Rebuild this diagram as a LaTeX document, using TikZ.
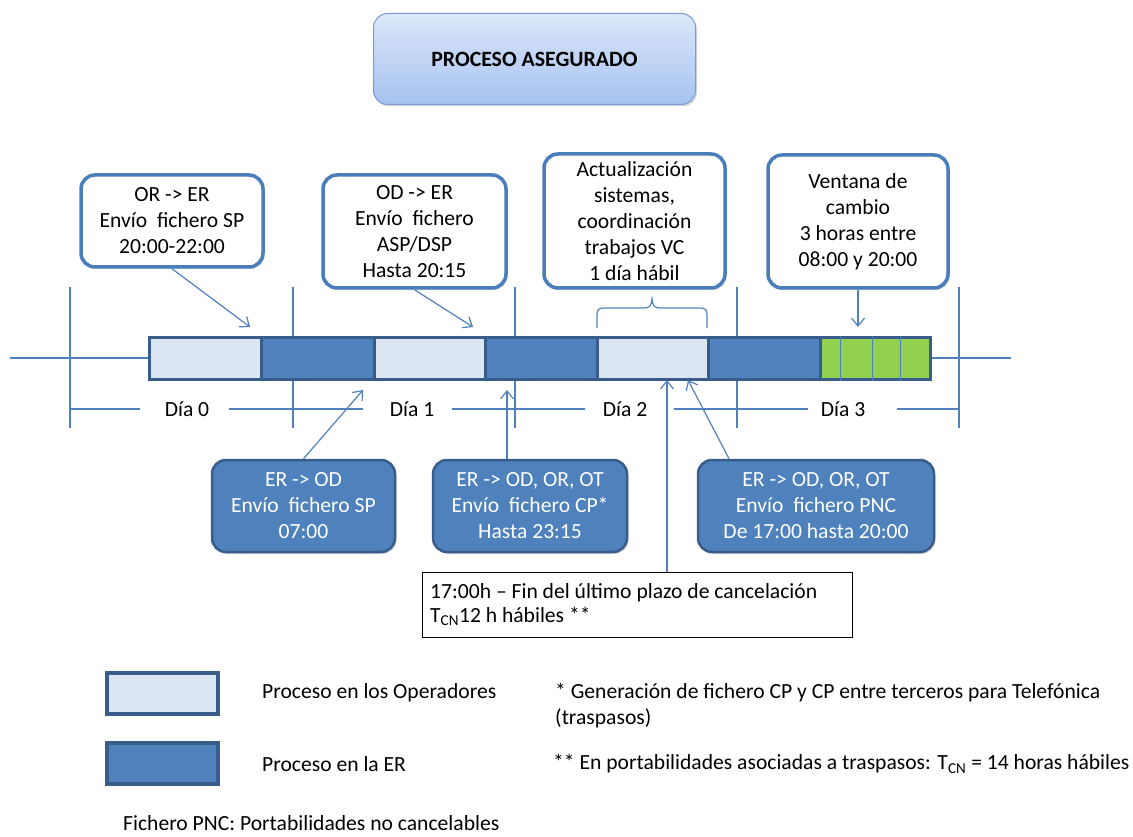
\documentclass[tikz,border=0pt]{standalone}
\usepackage{fontspec}
\setmainfont{Carlito}
\usetikzlibrary{arrows.meta,shadows}
\definecolor{lightseg}{HTML}{DCE6F2}
\definecolor{darkseg}{HTML}{4F81BD}
\definecolor{barline}{HTML}{385D8A}
\definecolor{greenseg}{HTML}{92D050}
\definecolor{linecol}{HTML}{4F81BD}
\definecolor{calloutline}{HTML}{4A7EBB}
\definecolor{titletop}{HTML}{DCE7FA}
\definecolor{titlebot}{HTML}{A6C2F0}
\definecolor{titleline}{HTML}{7A9AD2}
\begin{document}
\begin{tikzpicture}[x=1pt,y=-1pt,
  every node/.style={font=\fontsize{21.6}{26}\selectfont},
  softshadow/.style={drop shadow={shadow xshift=1.5pt,shadow yshift=-2pt,opacity=0.3}},
  callout/.style={draw=calloutline,line width=3.5pt,rounded corners=14pt,fill=white,align=center,inner sep=0pt,softshadow},
  erbox/.style={draw=barline,line width=2.5pt,rounded corners=14pt,fill=darkseg,text=white,align=center,inner sep=0pt,softshadow},
  seg/.style={draw=barline,line width=3pt,minimum height=42pt,inner sep=0pt},
  thinline/.style={draw=linecol,line width=1.2pt},
  conn/.style={thinline,-{Straight Barb[length=8pt,width=13pt]}},
  daylabel/.style={inner sep=0pt},
  legendbox/.style={draw=barline,line width=4pt,minimum width=111pt,minimum height=41pt,inner sep=0pt,softshadow},
  note/.style={anchor=west,inner sep=0pt}
]
\useasboundingbox (0,0) rectangle (1133,837);

% title
\node[draw=titleline,line width=1pt,rounded corners=14pt,top color=titletop,bottom color=titlebot,
      minimum width=322pt,minimum height=91pt,inner sep=0pt,softshadow,font=\fontsize{21.8}{26}\selectfont\bfseries]
  (title) at (534.5,59) {PROCESO ASEGURADO};

% centre line and ticks
\draw[thinline] (10,358) -- (1011,358);
\foreach \x in {70,293,515,737,959}{
  \draw[thinline] (\x,287) -- (\x,428);
}

% bar segments
\node[seg,fill=lightseg,minimum width=112.5pt] (s1) at (205.25,358) {};
\node[seg,fill=darkseg,minimum width=112.5pt]  (s2) at (317.75,358) {};
\node[seg,fill=lightseg,minimum width=111.5pt] (s3) at (429.75,358) {};
\node[seg,fill=darkseg,minimum width=111.5pt]  (s4) at (541.25,358) {};
\node[seg,fill=lightseg,minimum width=111.5pt] (s5) at (652.75,358) {};
\node[seg,fill=darkseg,minimum width=111.5pt]  (s6) at (764.25,358) {};
\node[seg,fill=greenseg,minimum width=110pt]   (s7) at (875,358) {};
\foreach \dx in {22,54,82}{
  \draw[draw=linecol,line width=1.5pt] ([xshift=\dx pt]s7.north west) -- ([xshift=\dx pt]s7.south west);
}

% day labels and dimension lines
\node[daylabel] (d0) at (187,409) {Día 0};
\node[daylabel] (d1) at (412,409) {Día 1};
\node[daylabel] (d2) at (625,409) {Día 2};
\node[daylabel] (d3) at (843,409) {Día 3};
\draw[thinline] (70,409) -- (140,409);
\draw[thinline] (229,409) -- (363,409);
\draw[thinline] (452,409) -- (585,409);
\draw[thinline] (674,409) -- (808,409);
\draw[thinline] (897,409) -- (959,409);

% top callouts
\node[callout,minimum width=182pt,minimum height=92pt] (b1) at (172,221)
  {OR -> ER\\Envío\ \ fichero SP\\20:00-22:00};
\node[callout,minimum width=183pt,minimum height=113pt] (b2) at (414.5,231.5)
  {OD -> ER\\Envío\ \ fichero\\ASP/DSP\\Hasta 20:15};
\node[callout,minimum width=181pt,minimum height=134pt] (b3) at (634.5,221)
  {Actualización\\sistemas,\\coordinación\\trabajos VC\\1 día hábil};
\node[callout,minimum width=180pt,minimum height=133pt] (b4) at (858,221.5)
  {Ventana de\\cambio\\3 horas entre\\08:00 y 20:00};

\coordinate (t1) at (250,327);
\coordinate (t2) at (473,327);
\coordinate (t4) at (858,327);
\draw[conn] (b1.south) -- (t1);
\draw[conn] (b2.south) -- (t2);
\draw[conn] (b4.south) -- (t4);

% brace under box 3
\draw[thinline] (597,328) -- (597,315) .. controls (597,309) and (599,308) .. (605,308)
  -- (644,308) .. controls (650,308) and (652,305) .. (652,297)
  .. controls (652,305) and (654,308) .. (660,308) -- (699,308)
  .. controls (705,308) and (707,309) .. (707,315) -- (707,328);

% bottom ER boxes
\node[erbox,minimum width=183pt,minimum height=92pt] (ba) at (303.5,506)
  {ER -> OD\\Envío\ \ fichero SP\\07:00};
\node[erbox,minimum width=194pt,minimum height=92pt] (bb) at (530,506)
  {ER -> OD, OR, OT\\Envío\ \ fichero CP*\\Hasta 23:15};
\node[erbox,minimum width=236pt,minimum height=92pt] (bc) at (816,506)
  {ER -> OD, OR, OT\\Envío\ \ fichero PNC\\De 17:00 hasta 20:00};

\coordinate (u1) at (363,390);
\coordinate (u2) at (507,390);
\coordinate (u3) at (667,380);
\coordinate (u4) at (688,380);
\draw[conn] (ba.north) -- (u1);
\draw[conn] (u2 |- bb.north) -- (u2);
\draw[conn] ([xshift=-87pt]bc.north) -- (u4);

% cancellation text box
\node[draw=black,line width=1pt,fill=white,minimum width=430pt,minimum height=65pt,inner sep=0pt] (tb) at (637.5,604.5) {};
\node[anchor=west,align=left,inner sep=0pt,font=\fontsize{21.6}{24.5}\selectfont] (tbt) at ([xshift=8pt]tb.west)
  {17:00h – Fin del último plazo de cancelación\\T\textsubscript{CN}12 h hábiles **};
\draw[conn] (u3 |- tb.north) -- (u3);

% legend
\node[legendbox,fill=lightseg] (l1) at (162.5,693.5) {};
\node[legendbox,fill=darkseg] (l2) at (162.5,763) {};
\node[note] (n1) at (262,693) {Proceso en los Operadores};
\node[note] (n2) at (262,764) {Proceso en la ER};
\node[note,align=left] (n3) at (555,705.5) {* Generación de fichero CP y CP entre terceros para Telefónica\\(traspasos)};
\node[note] (n4) at (553,764) {** En portabilidades asociadas a traspasos: T\textsubscript{CN} = 14 horas hábiles};
\node[note] (n5) at (123,823) {Fichero PNC: Portabilidades no cancelables};
\end{tikzpicture}
\end{document}
